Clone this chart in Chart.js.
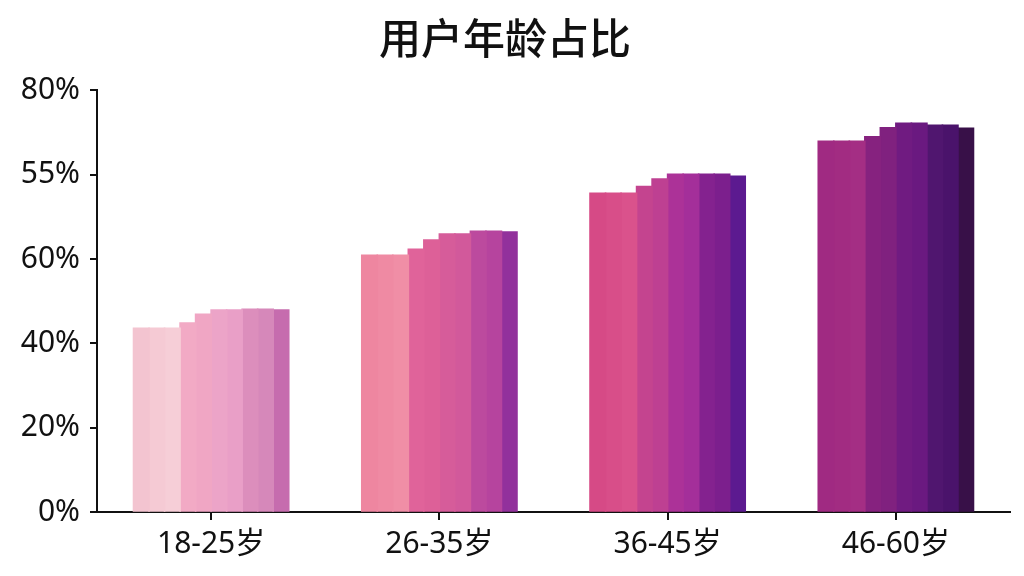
<!DOCTYPE html>
<html>
<head>
    <meta charset="utf-8">
    <title>用户年龄占比</title>
    <script src="https://cdn.jsdelivr.net/npm/chart.js"></script>
    <style>
        html, body {
            margin: 0;
            padding: 0;
            background: #ffffff;
        }

        .chart-box {
            width: 1024px;
            height: 576px;
        }
    </style>
</head>
<body>
    <div class="chart-box">
        <canvas id="ageChart" width="1024" height="576"></canvas>
    </div>

    <script>
        // Данные
        const categories = ['18-25岁', '26-35岁', '36-45岁', '46-60岁'];
        const yTickLabels = ['0%', '20%', '40%', '60%', '55%', '80%'];

        // каждая группа состоит из 10 узких столбиков
        const seg1 = [43.6, 60.9, 75.6, 87.9];
        const seg2 = [43.6, 60.9, 75.6, 87.9];
        const seg3 = [43.6, 60.9, 75.6, 87.9];
        const seg4 = [44.8, 62.3, 77.2, 89.0];
        const seg5 = [46.9, 64.5, 79.0, 91.1];
        const seg6 = [47.9, 65.9, 80.1, 92.2];
        const seg7 = [47.9, 65.9, 80.1, 92.2];
        const seg8 = [48.1, 66.6, 80.1, 91.7];
        const seg9 = [48.1, 66.6, 80.1, 91.7];
        const seg10 = [47.9, 66.4, 79.6, 91.0];

        const segments = [seg1, seg2, seg3, seg4, seg5, seg6, seg7, seg8, seg9, seg10];

        // цвета: для каждого столбика — по одному на группу
        const segColors = [
            ['#f3c4d0', '#ee86a0', '#d64a86', '#a02a82'],
            ['#f5cad4', '#ef8aa3', '#d84e89', '#a22c82'],
            ['#f6ced7', '#f08ea6', '#da528c', '#a42e84'],
            ['#f2aac5', '#e0639a', '#c4448f', '#86227f'],
            ['#f0a6c4', '#dd6098', '#be4092', '#80217f'],
            ['#eca4c8', '#d65c9a', '#ac3298', '#701b81'],
            ['#e99fc7', '#d2599b', '#a42f9a', '#6a1980'],
            ['#dc8ebc', '#bc4a9e', '#84228f', '#50166f'],
            ['#d688ba', '#b6449e', '#7c1f8d', '#4a136b'],
            ['#c66cae', '#92319c', '#5c1a90', '#381048']
        ];

        const fontFamily = '"Noto Sans", "Noto Sans CJK SC", sans-serif';

        const ctx = document.getElementById('ageChart');
        const ageChart = new Chart(ctx, {
            type: 'bar',
            data: {
                labels: categories,
                datasets: segments.map((d, i) => ({
                    label: 'seg' + (i + 1),
                    data: d,
                    backgroundColor: segColors[i],
                    borderWidth: 0,
                    inflateAmount: 0.8,
                    categoryPercentage: 0.68,
                    barPercentage: 1.0
                }))
            },
            options: {
                responsive: false,
                animation: false,
                layout: {
                    padding: { left: 0, right: 14, top: 0, bottom: 0 }
                },
                plugins: {
                    legend: { display: false },
                    tooltip: { enabled: false },
                    title: {
                        display: true,
                        text: '用户年龄占比',
                        color: '#111111',
                        font: { family: '"Noto Sans CJK SC", sans-serif', size: 42, weight: '500' },
                        padding: { top: 13, bottom: 27 }
                    }
                },
                scales: {
                    x: {
                        grid: {
                            drawOnChartArea: false,
                            drawTicks: true,
                            tickLength: 8,
                            offset: false,
                            color: '#111111',
                            lineWidth: 2
                        },
                        border: { display: true, color: '#111111', width: 2 },
                        ticks: {
                            color: '#111111',
                            padding: 6,
                            font: { family: fontFamily, size: 30 }
                        },
                        afterFit: s => { s.height = 64; }
                    },
                    y: {
                        min: 0,
                        max: 100,
                        grid: {
                            drawOnChartArea: false,
                            drawTicks: true,
                            tickLength: 7,
                            color: '#111111',
                            lineWidth: 2
                        },
                        border: { display: true, color: '#111111', width: 2 },
                        ticks: {
                            stepSize: 20,
                            color: '#111111',
                            padding: 10,
                            font: { family: fontFamily, size: 30 },
                            callback: (v, i) => yTickLabels[i]
                        },
                        afterFit: s => { s.width = 97; }
                    }
                }
            }
        });
    </script>
</body>
</html>
